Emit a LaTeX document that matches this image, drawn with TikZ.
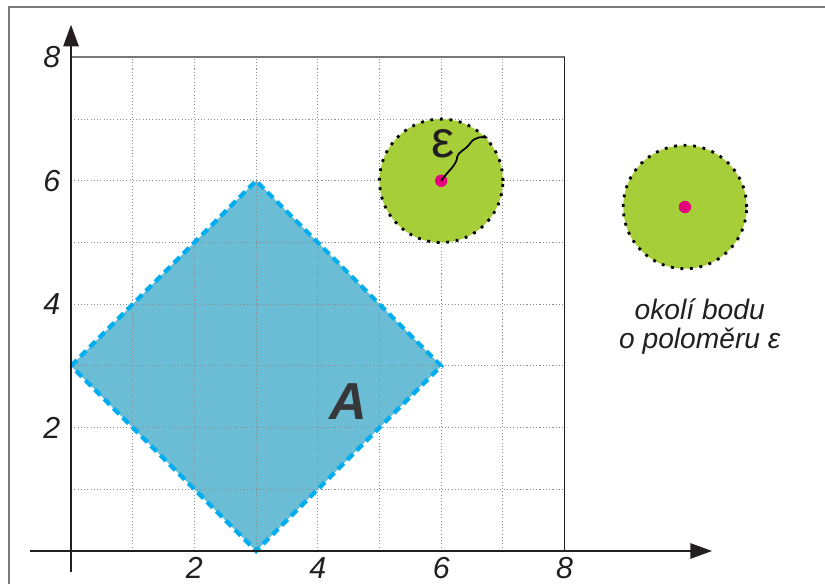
\documentclass[tikz,border=0pt]{standalone}
\usepackage{fontspec}
\setmainfont{Liberation Sans}
\usetikzlibrary{arrows.meta, positioning, calc}
\definecolor{AxisGrey}{RGB}{35,31,32}
\definecolor{GridGrey}{RGB}{140,140,140}
\definecolor{FrameGrey}{RGB}{120,120,120}
\definecolor{SetFill}{RGB}{107,189,214}
\definecolor{SetEdge}{RGB}{0,174,239}
\definecolor{BallGreen}{RGB}{166,206,57}
\definecolor{PointPink}{RGB}{230,0,126}
\definecolor{LabelGrey}{RGB}{55,55,58}

\begin{document}
\begin{tikzpicture}[
    x=1cm,
    y=1cm,
    font=\itshape\fontsize{14}{16}\selectfont,
    ball/.style={circle, fill=BallGreen, draw=black, line width=1.3pt,
      dash pattern=on 1.3pt off 3.1pt, minimum size=2cm, inner sep=0pt},
    point/.style={circle, fill=PointPink, minimum size=0.2cm, inner sep=0pt},
    axis/.style={AxisGrey, line width=1pt, -{Triangle[length=10pt,width=7pt]}}
]
\useasboundingbox (-1.151,-0.519) rectangle (12.22,8.93);

% outer frame
\draw[FrameGrey, line width=0.7pt] (-1.005,-0.6) -- (-1.005,8.817) -- (12.4,8.817);

% set A
\draw[fill=SetFill, draw=none] (0,3) -- (3,6) -- (6,3) -- (3,0) -- cycle;

% Grid
\foreach \k in {1,...,7}{
  \draw[GridGrey, densely dotted, line width=0.5pt] (\k,0) -- (\k,8);
  \draw[GridGrey, densely dotted, line width=0.5pt] (0,\k) -- (8,\k);
}
\draw[FrameGrey, line width=0.9pt] (0,8) -- (8,8);
\draw[AxisGrey, line width=0.6pt] (8,8) -- (8,0);

% border of A
\draw[SetEdge, line width=1.9pt, dash pattern=on 3.8pt off 2.3pt]
  (0,3) -- (3,6) -- (6,3) -- (3,0) -- cycle;
\node[font=\bfseries\itshape\fontsize{24}{24}\selectfont, text=LabelGrey] (setA) at (4.49,2.42) {A};

% Axes
\draw[axis] (-0.66,0) -- (10.39,0);
\draw[axis] (0,-0.34) -- (0,8.53);

% Tick labels
\foreach \t in {2,4,6,8}{
  \node[text=AxisGrey, inner sep=1pt] (xl\t) at (\t,-0.27) {\t};
  \node[text=AxisGrey] (yl\t) at (-0.31,\t) {\t};
}

% neighbourhood inside the grid
\node[ball] (okoli1) at (6,6) {};
\node[point] (bod1) at (6,6) {};
\node[font=\upshape\fontsize{24}{24}\selectfont, text=AxisGrey] (eps) at (6.03,6.6) {ε};
\draw[black, line width=0.8pt]
  (bod1.center) .. controls (6.1,6.15) and (6.25,6.25) .. (6.26,6.39)
  .. controls (6.27,6.47) and (6.4,6.5) .. (6.47,6.61)
  .. controls (6.55,6.72) and (6.68,6.72) .. (okoli1.43);

% neighbourhood with caption
\node[ball] (okoli2) at (9.95,5.575) {};
\node[point] (bod2) at (9.95,5.575) {};
\node[text=AxisGrey, align=center, font=\itshape\fontsize{13}{13.5}\selectfont]
  (popis) at (10.19,3.64) {okolí bodu\\o poloměru ε};

\end{tikzpicture}
\end{document}
